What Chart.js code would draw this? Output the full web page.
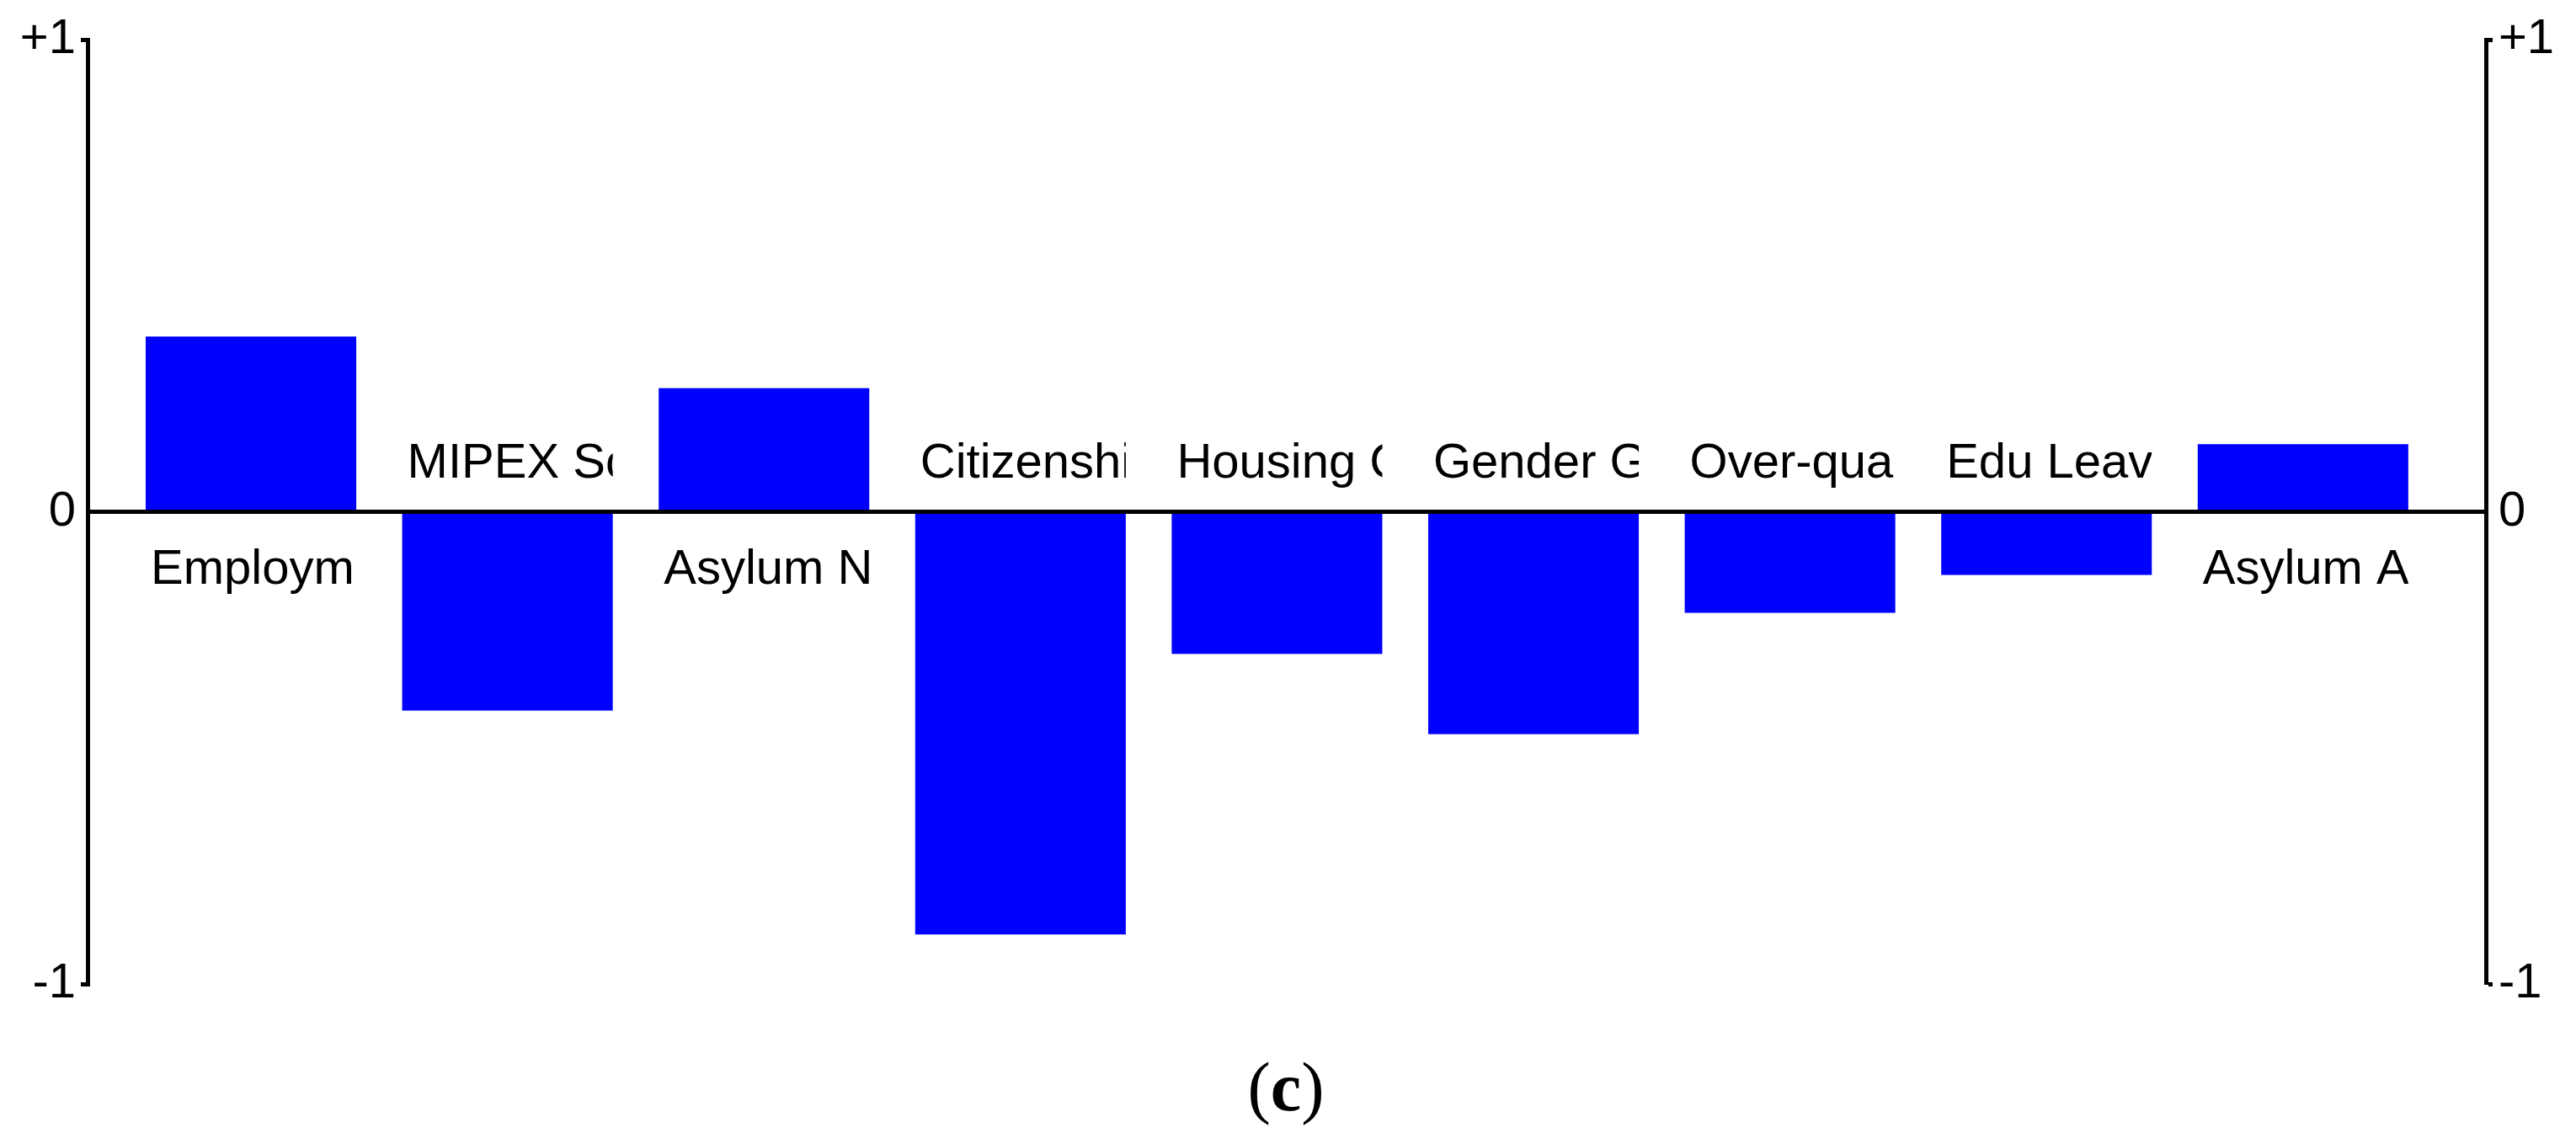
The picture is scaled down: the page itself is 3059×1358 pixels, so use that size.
<!DOCTYPE html>
<html>
<head>
<meta charset="utf-8">
<script src="https://cdn.jsdelivr.net/npm/chart.js@4/dist/chart.umd.min.js"></script>
<style>
  body { margin: 0; background: #fff; }
  #wrap { position: relative; width: 3059px; height: 1358px; }
  #caption {
    position: absolute; left: 1427px; top: 1250px; width: 200px;
    text-align: center; font: 82px "Liberation Serif", serif; line-height: 1; color: #000;
  }
</style>
</head>
<body>
<div id="wrap">
  <canvas id="chart" width="3059" height="1358"></canvas>
  <div id="caption">(<b>c</b>)</div>
</div>
<script>
const categories = ['Employment', 'MIPEX Score', 'Asylum New', 'Citizenship', 'Housing Cost',
  'Gender Gap', 'Over-qualification', 'Edu Leavers', 'Asylum Applications'];
const values = [0.371, -0.421, 0.262, -0.895, -0.301, -0.471, -0.214, -0.134, 0.143];
const tickValues = [-1, 0, 1];
const tickLabels = ['-1', '0', '+1'];

const labelFont = '58px "Liberation Sans", Arial, sans-serif';

// category names sit on the other side of the zero line, clipped to the bar width
const barLabels = {
  id: 'barLabels',
  afterDatasetsDraw(chart) {
    const ctx = chart.ctx;
    const zero = chart.scales.y.getPixelForValue(0);
    chart.getDatasetMeta(0).data.forEach((bar, i) => {
      const { x, width } = bar.getProps(['x', 'width'], true);
      const left = x - width / 2;
      ctx.save();
      ctx.beginPath();
      ctx.rect(left, 0, width, chart.height);
      ctx.clip();
      ctx.font = labelFont;
      ctx.fillStyle = '#000';
      ctx.textBaseline = 'alphabetic';
      ctx.textAlign = 'left';
      const y = values[i] >= 0 ? zero + 85 : zero - 41;
      ctx.fillText(categories[i], left + 6, y);
      ctx.restore();
    });
  }
};

const setTicks = scale => { scale.ticks = tickValues.map(v => ({ value: v })); };
const tickText = (v) => tickLabels[tickValues.indexOf(v)];
const tickColor = ctx => ctx.tick && ctx.tick.value === 0 ? 'rgba(0,0,0,0)' : '#000';

new Chart(document.getElementById('chart'), {
  type: 'bar',
  data: {
    datasets: [{
      data: values.map((v, i) => ({ x: i, y: v })),
      backgroundColor: '#0000ff',
      borderWidth: 0,
      categoryPercentage: 1,
      barPercentage: 0.821,
      yAxisID: 'y'
    }]
  },
  options: {
    responsive: false,
    animation: false,
    layout: { padding: { top: 47, bottom: 190, left: 0, right: 0 } },
    plugins: { legend: { display: false }, tooltip: { enabled: false } },
    scales: {
      x: {
        type: 'linear',
        display: false,
        offset: false,
        min: -0.637,
        max: 8.713,
        afterBuildTicks: scale => { scale.ticks = categories.map((c, i) => ({ value: i })); }
      },
      y: {
        position: 'left',
        min: -1, max: 1,
        afterBuildTicks: setTicks,
        afterFit: scale => { scale.width = 104; },
        border: { display: true, width: 5, color: '#000' },
        grid: {
          drawOnChartArea: true,
          drawTicks: true,
          tickLength: 8,
          lineWidth: 5,
          tickWidth: 5,
          color: ctx => ctx.tick && ctx.tick.value === 0 ? '#000' : 'rgba(0,0,0,0)',
          tickColor: tickColor
        },
        ticks: {
          padding: 6,
          color: '#000',
          font: { family: '"Liberation Sans", Arial, sans-serif', size: 58 },
          callback: tickText
        }
      },
      y2: {
        position: 'right',
        min: -1, max: 1,
        afterBuildTicks: setTicks,
        afterFit: scale => { scale.width = 107; },
        border: { display: true, width: 5, color: '#000' },
        grid: {
          drawOnChartArea: false,
          drawTicks: true,
          tickLength: 8,
          tickWidth: 5,
          tickColor: tickColor
        },
        ticks: {
          padding: 7,
          color: '#000',
          font: { family: '"Liberation Sans", Arial, sans-serif', size: 58 },
          callback: tickText
        }
      }
    }
  },
  plugins: [barLabels]
});
</script>
</body>
</html>
